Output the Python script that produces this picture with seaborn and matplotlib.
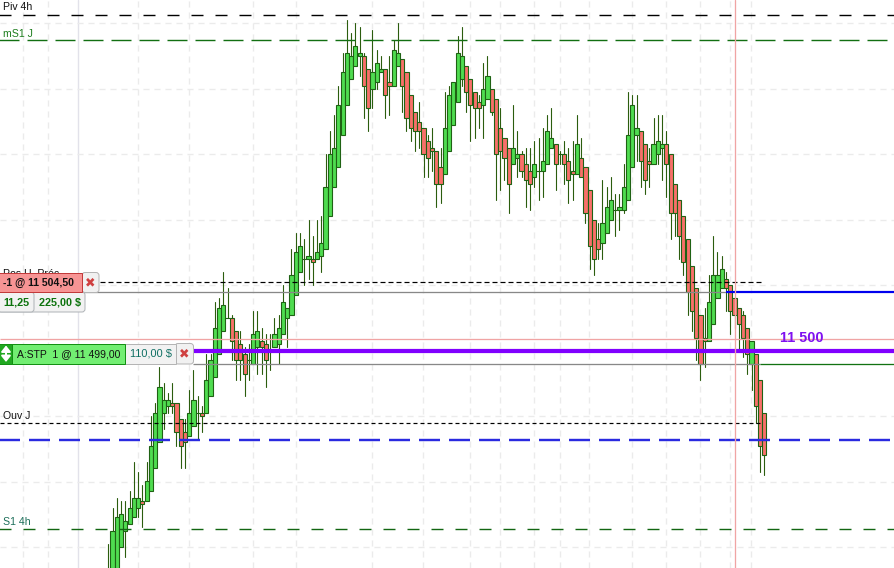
import numpy as np
import pandas as pd
import matplotlib.pyplot as plt
from matplotlib.patches import Rectangle, FancyBboxPatch
import seaborn as sns

# prices are given in points from the 11 500 level
BASE = 11500

opens = [
    -18, -17, -16.75, -15, -13.75, -13.25, -12.75, -12, -11.5, -11.5,
    -10.75, -9, -7, -4.75, -4.25, -4, -4, -5.25, -6.25, -6.5,
    -5.75, -4.75, -4.75, -4.75, -3.5, -2, -0.25, 1.5, 2.5, 2.5,
    1.5, 0.5, -0.25, -0.75, -1, 0.25, 0.75, 0.5, 0, 0.25,
    0.5, 1.25, 2.5, 2.75, 4.25, 6, 7, 7, 7, 7,
    7.25, 7.75, 10.25, 12.5, 14, 16.5, 18.75, 20.75, 21.75, 22.5,
    22.5, 21.5, 20, 20.5, 21.25, 21.5, 20.5, 20.25, 21.75, 22.25,
    21.25, 19.5, 18.25, 17.5, 17, 16, 15.5, 15.25, 14, 13.5,
    15.25, 17.25, 19, 20.75, 21.75, 20.75, 19.75, 19, 18.75, 19.25,
    20, 19.25, 17, 16.25, 15.5, 14.25, 14.75, 15, 14.25, 13.75,
    13.25, 13.75, 13.75, 14.25, 15.5, 15.75, 15, 15, 14.5, 13.75,
    13.5, 14.75, 14, 12.25, 10, 8.5, 8.25, 9, 10, 10.75,
    10.75, 10.75, 11.5, 14, 16.5, 16.75, 15.75, 14.5, 14.25, 15,
    15.5, 15.75, 15, 12.75, 11.5, 10.25, 8.5, 6.5, 4.75, 2.75,
    1, 0.75, 2, 4, 4.75, 5.5, 5, 4, 3.25, 2.75,
    1.75, -1, -0.25, -2.25, -4.75,
]
closes = [
    -17.25, -13.75, -12.75, -12.5, -13, -12, -11.25, -11.25, -11.75, -10,
    -7.25, -4.75, -2.75, -3.75, -3.75, -4.25, -6.25, -7.25, -7, -4.75,
    -3.75, -4.75, -5, -2.25, -0.75, 1.75, 3.25, 3.5, 2.5, 0.75,
    -0.75, -0.75, -1.75, -0.75, 1.25, 1.5, 0.25, -0.75, 0, 1.25,
    1.75, 3.75, 3.25, 5.75, 7.5, 8, 7, 7.25, 6.75, 7.5,
    8.25, 12.5, 15, 15.5, 18.75, 21.25, 22.75, 22.5, 23.25, 22.75,
    20.25, 18.5, 21.25, 22, 21.5, 19.5, 20.25, 23, 22.75, 20.25,
    17.75, 17, 16.75, 16.75, 15, 14.75, 15.25, 12.75, 12.75, 17,
    19.5, 20.5, 22.75, 22.5, 19.75, 18.75, 18.5, 18.5, 20, 21,
    18.25, 15, 15.25, 14.75, 12.75, 15.5, 15, 13.75, 13, 12.75,
    14.25, 13.75, 14.5, 16.75, 16.25, 14.25, 15, 14.25, 13, 13.5,
    15.75, 13.25, 10.5, 8, 7, 7.75, 9.75, 11, 11.5, 10.75,
    11, 12.5, 16.5, 18.75, 17, 14.5, 13, 14.25, 15.75, 16,
    15.75, 14.25, 10.5, 10.5, 8.75, 6.75, 4.5, 3, 1, -1,
    0.75, 3.75, 5.75, 5.75, 6.25, 4.75, 3, 2.75, 2, 1,
    -0.25, 0.75, -4.25, -7.25, -8,
]
highs = [
    -14.75, -12, -11.25, -11.5, -11.5, -10.75, -8.5, -9.25, -10.25, -8.5,
    -5, -4, -1.25, -2.5, -3.25, -2.5, -4, -5.25, -5.25, -3,
    -1.5, -3.5, -4.25, -0.25, -0.25, 3.75, 4, 6, 4.75, 2.75,
    1.5, 1.5, 0.25, 0.5, 3, 3, 1.75, 1.25, 1.25, 2.5,
    2.75, 5, 3.25, 7.75, 9, 9, 8.5, 10, 8.75, 10,
    10.25, 15, 16.75, 18, 20.25, 22.75, 25.25, 24.25, 25, 24.75,
    22.75, 21.5, 24.5, 23, 22.5, 21.5, 22.5, 23.75, 25, 22.25,
    21.25, 19.5, 18.25, 19, 17, 16.5, 17, 15.25, 15.5, 19.75,
    20.25, 20.5, 24, 24.75, 21.75, 20.75, 19.75, 19.5, 22, 22.5,
    20, 19.25, 18.5, 16.25, 15.5, 18.75, 16.75, 15.25, 15.5, 15.5,
    16, 16.25, 17, 18, 18.5, 15.75, 15.25, 16, 15.5, 16,
    18, 16.25, 14, 12.25, 10, 9.75, 13, 12.5, 13.25, 12,
    12, 14.25, 19.75, 19.5, 19.5, 16.75, 15.75, 15.5, 17.75, 18,
    18, 16.75, 15, 12.75, 11.5, 10.25, 8.5, 6.5, 4.75, 2.75,
    3.25, 5.75, 8.75, 7.5, 7.25, 6, 5, 4, 3.25, 3,
    1.75, 0.75, -0.25, -2.25, -4.75,
]
lows = [
    -18.5, -17.5, -17, -15, -15.75, -13.25, -12.75, -12.75, -13.5, -11.5,
    -10.75, -9, -7, -6, -4.75, -4.75, -7.25, -9, -9, -6.5,
    -5.75, -6.75, -6.25, -4.75, -3.5, -2, -0.25, 1.5, 2.5, -0.75,
    -2.25, -2.25, -3.5, -2.25, -1, -1.75, -1.75, -2.75, -1.5, 0.25,
    -1, 1.25, 0.25, 2.75, 4.25, 6, 5, 5.5, 5, 7,
    6, 7.75, 10.25, 12.5, 14, 16.5, 18.75, 20.75, 21.75, 21,
    17.75, 16.75, 18.5, 20, 21.25, 17.75, 18, 20.25, 21.75, 18.25,
    16.75, 16, 15.25, 15.5, 13.25, 13.25, 13.75, 11, 11.25, 13.5,
    15.25, 17.25, 19, 20.25, 18.25, 16, 16.25, 17, 16.25, 19.25,
    18, 11.5, 12.25, 13, 10.5, 14.25, 13.25, 13.25, 11, 10.75,
    12.5, 11.5, 11.75, 14.25, 15.5, 12.25, 14.25, 12.75, 11.25, 11.5,
    13.5, 13.25, 9.75, 6.25, 5.75, 7, 7, 9, 10, 8.75,
    9.25, 10.5, 11.5, 14, 14.5, 12.5, 12, 12.5, 14.25, 14.25,
    13, 11.75, 8.5, 8.75, 7, 5.75, 2.75, 1.5, -0.75, -2.25,
    -1.25, 0.75, 2, 4, 4.75, 3, 1.25, 1.75, 0, -0.5,
    -1.75, -3, -5.5, -9.25, -9.5,
]

time_grid = [-20, -14, 7, 19, 34, 44, 62, 74, 85, 92, 100, 106, 113, 123, 131, 139, 146, 151]
session_line = -7
cursor_bar = 147.15
price_grid = [-15, -10, -5, 0, 5, 10, 15, 20, 25]

piv_4h = 25.65
ms1_j = 23.7
prev_high = 5.25
entry_short = 4.5
cursor_price = 0.9
alert_price = 0
stop_price = -1
ouv_j = -5.5
blue_level = -6.8
s1_4h = -13.6

PX = 0.72  # one screen pixel in points
W, H = 894, 568
BAR_PITCH = 4.26
BAR0_X = 108.3


def bar_at(px):
    return (px - BAR0_X) / BAR_PITCH


sns.set_style("white")
plt.rcParams["font.family"] = ["Liberation Sans", "DejaVu Sans"]
plt.rcParams["lines.scale_dashes"] = False

fig = plt.figure(figsize=(W / 100, H / 100), dpi=100)
ax = fig.add_axes([0, 0, 1, 1])

df = pd.DataFrame({"open": opens, "close": closes, "high": highs, "low": lows}) + BASE
df["bar"] = np.arange(len(df))
df["bottom"] = df[["open", "close"]].min(axis=1)
df["height"] = (df["close"] - df["open"]).abs()
df["up"] = df["close"] >= df["open"]

for b in time_grid:
    ax.axvline(b - 0.05, color="#ebebeb", lw=1.4 * PX, ls=(0, (6 * PX, 5 * PX)), zorder=0)
ax.axvline(session_line - 0.1, color="#e2e2ea", lw=1.4 * PX, zorder=0)
for p in price_grid:
    ax.axhline(BASE + p, color="#ebebeb", lw=1.4 * PX, ls=(0, (6 * PX, 5 * PX)), zorder=0)

# wicks
wicks = df.melt(id_vars="bar", value_vars=["low", "high"], value_name="price")
sns.lineplot(
    data=wicks, x="bar", y="price", units="bar", estimator=None,
    color="#2b5d0e", lw=1.1 * PX, ax=ax, zorder=2, legend=False,
)

# bodies
for is_up, fill in [(False, "#f8706a"), (True, "#4fdc50")]:
    part = df[df["up"] == is_up]
    sns.barplot(
        x=part["bar"].to_numpy(), y=part["height"].to_numpy(),
        bottom=part["bottom"].to_numpy(), native_scale=True, width=0.98,
        errorbar=None, color=fill, saturation=1, edgecolor="#1f6214",
        linewidth=1.1 * PX, ax=ax, zorder=3,
    )


def level(price, x0, x1, color, lw, dash=None):
    ls = "-" if dash is None else (0, (dash[0] * PX, dash[1] * PX))
    ax.plot([bar_at(x0), bar_at(x1)], [BASE + price, BASE + price],
            color=color, lw=lw * PX, ls=ls, zorder=4, solid_capstyle="butt",
            dash_capstyle="butt")


level(piv_4h, -2, W, "#000000", 1.4, (12, 12))
level(ms1_j, -2, W, "#126f12", 1.4, (20, 8))
level(prev_high, 100, 763, "#000000", 1.2, (5, 3))
level(entry_short, 0, 726, "#888888", 1.3)
level(entry_short, 726, W, "#0000ee", 2.2)
level(cursor_price, 0, W, "#f0a4a4", 1.3)
level(stop_price, 193, 760, "#888888", 1.3)
level(stop_price, 760, W, "#127212", 1.3)
level(ouv_j, 0, 762, "#000000", 1.2, (4, 3))
level(blue_level, -2, W, "#2a2ae0", 2.4, (21, 9))
level(s1_4h, -2, W, "#126612", 1.4, (12, 12))
level(alert_price, 194, W, "#8000ff", 4.2)
ax.axvline(cursor_bar, color="#f0a4a4", lw=1.3 * PX, zorder=4)

ax.set_xlim(bar_at(0), bar_at(W))
ax.set_ylim(BASE + (350.6 - H) / 13.09, BASE + 350.6 / 13.09)
ax.set_xlabel("")
ax.set_ylabel("")
ax.set_xticks([])
ax.set_yticks([])
sns.despine(ax=ax, left=True, bottom=True)

# order widgets and labels, laid out in screen pixels
ui = fig.add_axes([0, 0, 1, 1], facecolor="none", zorder=5)
ui.set_xlim(0, W)
ui.set_ylim(H, 0)
ui.axis("off")


def box(x0, y0, x1, y1, fill, edge, z=2, rounded=False):
    if rounded:
        ui.add_patch(FancyBboxPatch((x0, y0), x1 - x0, y1 - y0, boxstyle="round,pad=0,rounding_size=3",
                                    fc=fill, ec=edge, lw=1 * PX, zorder=z))
    else:
        ui.add_patch(Rectangle((x0, y0), x1 - x0, y1 - y0, fc=fill, ec=edge, lw=1 * PX, zorder=z))


def label(x, y, s, color="#111111", size=7.6, weight="normal", ha="left", z=5):
    ui.text(x, y, s, color=color, fontsize=size, fontweight=weight, ha=ha, va="center", zorder=z)


label(3, 7, "Piv 4h")
label(3, 34, "mS1 J", color="#1d7d1d")
label(3, 416, "Ouv J")
label(3, 522, "S1 4h", color="#1d6f5a")
label(3, 274, "Pos H. Préc", z=1)
label(780, 338, "11 500", color="#7f10f0", size=10.4, weight="bold")

# short order
box(82, 272.5, 99, 292.5, "#f1f1f1", "#b4b4b4", rounded=True)
box(-2, 292, 85, 312, "#f2f2f2", "#b0b4b8", rounded=True)
box(-2, 292, 34, 312, "#f2f2f2", "#b0b4b8", rounded=True)
box(-2, 273, 81.5, 292, "#f79494", "#c23a3a", z=3)
label(3, 283, "-1 @ 11 504,50", size=7.6, weight="bold")
label(3, 302.5, "11,25", color="#0d730d", size=7.8, weight="bold")
label(39, 302.5, "225,00 $", color="#0d730d", size=7.8, weight="bold")
ui.text(90.5, 282.5, "✖", color="#cf4040", fontsize=9, ha="center", va="center",
        family="DejaVu Sans", zorder=5)

# stop order
box(175, 343.5, 193.5, 364, "#f1f1f1", "#b4b4b4", rounded=True)
box(125, 343.5, 175.5, 364, "#f2f2f2", "#b4b4b4")
box(12, 343.5, 125, 364, "#72ee72", "#139013", z=3)
box(-2, 343.5, 12, 364, "#21a821", "#139013", z=3)
label(17, 354, "A:STP  1 @ 11 499,00", size=7.5)
label(130, 354, "110,00 $", color="#0f6f63", size=7.9)
ui.annotate("", xy=(6, 345.5), xytext=(6, 362), zorder=5,
            arrowprops=dict(arrowstyle="<|-|>,head_width=0.28,head_length=0.35", color="white",
                            lw=2 * PX, shrinkA=0, shrinkB=0))
ui.text(184.5, 353.5, "✖", color="#cf4040", fontsize=9, ha="center", va="center",
        family="DejaVu Sans", zorder=5)

plt.savefig("out.png", dpi=100)
